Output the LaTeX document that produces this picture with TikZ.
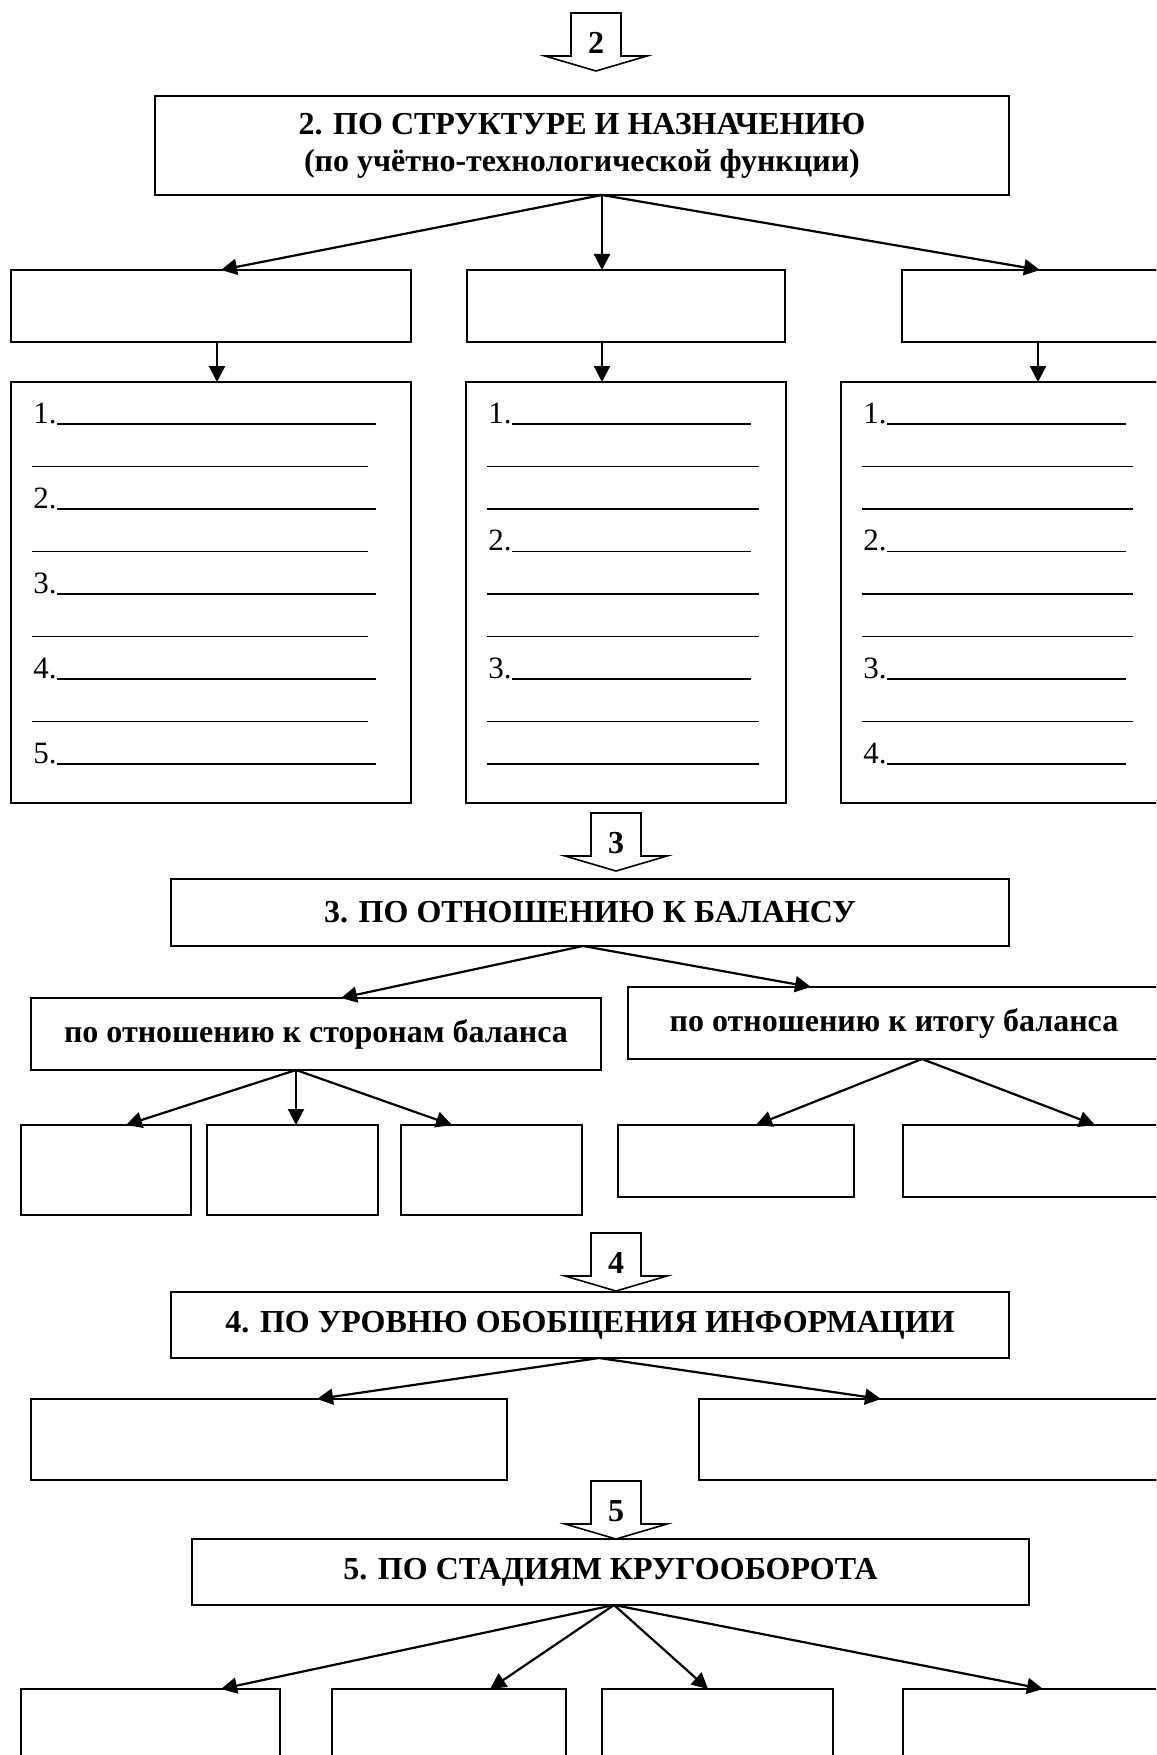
\documentclass[tikz,border=0pt]{standalone}
\usepackage{fontspec}
\setmainfont{Liberation Serif}
\usetikzlibrary{arrows.meta,calc}

\tikzset{
  box/.style={draw, line width=1pt, inner sep=0pt, outer sep=0pt, anchor=north west, align=center},
  sz/.style 2 args={minimum width=#1*0.5pt, minimum height=#2*0.5pt},
  link/.style={line width=1.1pt, -{Triangle[length=8pt,width=8pt]}},
  hfont/.style={font=\fontsize{16}{18.5}\selectfont\bfseries},
  num/.style={font=\fontsize{15.5}{18}\selectfont, inner sep=0pt, anchor=base west},
  blank/.style={line width=0.6pt},
}

% block arrow with a number: name, centre x, top y, label
\newcommand{\bigdown}[4]{%
  \draw[line width=0.8pt, fill=white] (#2-25,#3) -- (#2+25,#3) -- (#2+25,#3+43) -- (#2+51,#3+43)
     -- (#2,#3+58) -- (#2-51,#3+43) -- (#2-25,#3+43) -- cycle;
  \node[hfont] (#1) at (#2,#3+30) {#4};
}

\begin{document}
\begin{tikzpicture}[x=0.5pt,y=-0.5pt]
  \fill[white] (0,0) rectangle (1156,1755);
  \useasboundingbox (0,0) rectangle (1156,1755);
  \clip (0,0) rectangle (1156,1755);

  % --- 2 ---
  \bigdown{a2}{596}{13}{2}
  \node[box, sz={854}{99}, hfont] (h2) at (155,96)
    {2. ПО СТРУКТУРЕ И НАЗНАЧЕНИЮ\\(по учётно-технологической функции)};
  \node[box, sz={400}{72}] (r1a) at (11,270) {};
  \node[box, sz={318}{72}] (r1b) at (467,270) {};
  \node[box, sz={300}{72}] (r1c) at (902,270) {};
  \node[box, sz={400}{421}] (l1a) at (11,382) {};
  \node[box, sz={320}{421}] (l1b) at (466,382) {};
  \node[box, sz={380}{421}] (l1c) at (841,382) {};

  \coordinate (f2) at ($(h2.south west)+(447,0)$);
  \draw[link] (f2) -- ($(r1a.north west)+(210,0)$);
  \draw[link] (f2) -- (f2 |- r1b.north);
  \draw[link] (f2) -- ($(r1c.north west)+(138,0)$);
  \coordinate (p1) at ($(r1a.south west)+(206,0)$);
  \coordinate (p2) at ($(r1b.south west)+(135,0)$);
  \coordinate (p3) at ($(r1c.south west)+(136,0)$);
  \draw[link] (p1) -- (p1 |- l1a.north);
  \draw[link] (p2) -- (p2 |- l1b.north);
  \draw[link] (p3) -- (p3 |- l1c.north);

  % lists
  \foreach \k/\yy in {1/423, 2/508, 3/593, 4/678, 5/763} {
    \node[num] (la\k) at (33,\yy) {\k.};
    \draw[blank] (la\k.base east) ++(0,1) -- (376,\yy+1);
  }
  \foreach \yy in {465.5, 550.5, 635.5, 720.5}
    \draw[blank] (32,\yy+1) -- (368,\yy+1);

  \foreach \k/\t/\yy in {1/{1.}/423, 2/{2.\ }/550.5, 3/{3.}/678} {
    \node[num] (lb\k) at (488,\yy) {\t};
    \draw[blank] (lb\k.base east) ++(0,1) -- (751,\yy+1);
  }
  \foreach \yy in {465.5, 508, 593, 635.5, 720.5, 763}
    \draw[blank] (487,\yy+1) -- (759,\yy+1);

  \foreach \k/\yy in {1/423, 2/550.5, 3/678, 4/763} {
    \node[num] (lc\k) at (863,\yy) {\k.};
    \draw[blank] (lc\k.base east) ++(0,1) -- (1126,\yy+1);
  }
  \foreach \yy in {465.5, 508, 593, 635.5, 720.5}
    \draw[blank] (862,\yy+1) -- (1133,\yy+1);

  % --- 3 ---
  \bigdown{a3}{616}{813}{3}
  \node[box, sz={838}{67}, hfont] (h3) at (171,879) {3. ПО ОТНОШЕНИЮ К БАЛАНСУ};
  \node[box, sz={570}{72}, hfont] (s3a) at (31,998) {по отношению к сторонам баланса};
  \node[box, sz={532}{72}, hfont] (s3b) at (628,987) {по отношению к итогу баланса};
  \node[box, sz={170}{90}] (t3a) at (21,1125) {};
  \node[box, sz={171}{90}] (t3b) at (207,1125) {};
  \node[box, sz={181}{90}] (t3c) at (401,1125) {};
  \node[box, sz={236}{72}] (t3d) at (618,1125) {};
  \node[box, sz={300}{72}] (t3e) at (903,1125) {};

  \coordinate (f3) at ($(h3.south west)+(412,0)$);
  \draw[link] (f3) -- ($(s3a.north west)+(310,0)$);
  \draw[link] (f3) -- ($(s3b.north west)+(183,0)$);
  \coordinate (f3a) at ($(s3a.south west)+(265,0)$);
  \draw[link] (f3a) -- ($(t3a.north west)+(105,0)$);
  \draw[link] (f3a) -- (f3a |- t3b.north);
  \draw[link] (f3a) -- ($(t3c.north west)+(51,0)$);
  \coordinate (f3b) at ($(s3b.south west)+(294,0)$);
  \draw[link] (f3b) -- ($(t3d.north west)+(138,0)$);
  \draw[link] (f3b) -- ($(t3e.north west)+(192,0)$);

  % --- 4 ---
  \bigdown{a4}{616}{1233}{4}
  \node[box, sz={838}{66}, hfont] (h4) at (171,1292) {4. ПО УРОВНЮ ОБОБЩЕНИЯ ИНФОРМАЦИИ};
  \node[box, sz={476}{81}] (f4a) at (31,1399) {};
  \node[box, sz={500}{81}] (f4b) at (699,1399) {};
  \coordinate (f4) at ($(h4.south west)+(428,0)$);
  \draw[link] (f4) -- ($(f4a.north west)+(286,0)$);
  \draw[link] (f4) -- ($(f4b.north west)+(182,0)$);

  % --- 5 ---
  \bigdown{a5}{616}{1481}{5}
  \node[box, sz={837}{66}, hfont] (h5) at (192,1539) {5. ПО СТАДИЯМ КРУГООБОРОТА};
  \node[box, sz={259}{100}] (b5a) at (21,1689) {};
  \node[box, sz={234}{100}] (b5b) at (332,1689) {};
  \node[box, sz={231}{100}] (b5c) at (602,1689) {};
  \node[box, sz={300}{100}] (b5d) at (903,1689) {};
  \coordinate (f5) at ($(h5.south west)+(422,0)$);
  \draw[link] (f5) -- ($(b5a.north west)+(200,0)$);
  \draw[link] (f5) -- ($(b5b.north west)+(158,0)$);
  \draw[link] (f5) -- ($(b5c.north west)+(106,0)$);
  \draw[link] (f5) -- ($(b5d.north west)+(140,0)$);
\end{tikzpicture}
\end{document}
